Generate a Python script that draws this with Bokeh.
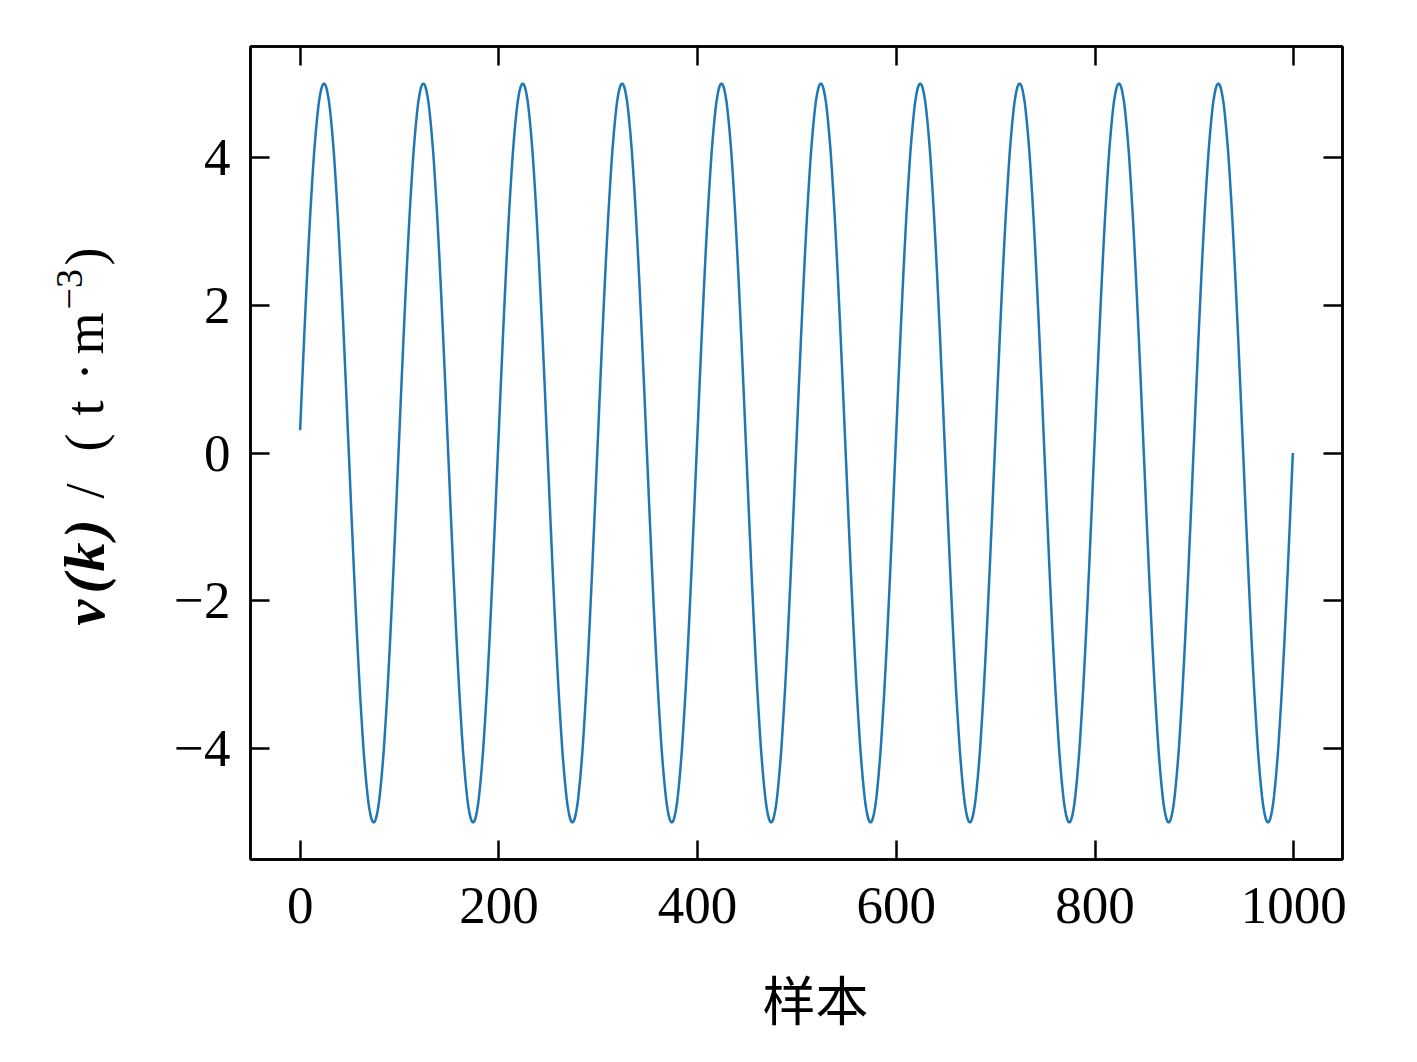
import numpy as np
from bokeh.plotting import figure
from bokeh.models import Label, LinearAxis, FixedTicker, CustomJSTickFormatter, Range1d, Title
from bokeh.layouts import row
from bokeh.embed import file_html
from bokeh.resources import INLINE

# ---- data (one period of the signal; the chart shows 10 identical periods) ----
cycle = [0.31, 0.63, 0.94, 1.24, 1.55, 1.84, 2.13, 2.41, 2.68, 2.94,
         3.19, 3.42, 3.64, 3.85, 4.05, 4.22, 4.38, 4.52, 4.65, 4.76,
         4.84, 4.91, 4.96, 4.99, 5.00, 4.99, 4.96, 4.91, 4.84, 4.76,
         4.65, 4.52, 4.38, 4.22, 4.05, 3.85, 3.64, 3.42, 3.19, 2.94,
         2.68, 2.41, 2.13, 1.84, 1.55, 1.24, 0.94, 0.63, 0.31, 0.00,
         -0.31, -0.63, -0.94, -1.24, -1.55, -1.84, -2.13, -2.41, -2.68, -2.94,
         -3.19, -3.42, -3.64, -3.85, -4.05, -4.22, -4.38, -4.52, -4.65, -4.76,
         -4.84, -4.91, -4.96, -4.99, -5.00, -4.99, -4.96, -4.91, -4.84, -4.76,
         -4.65, -4.52, -4.38, -4.22, -4.05, -3.85, -3.64, -3.42, -3.19, -2.94,
         -2.68, -2.41, -2.13, -1.84, -1.55, -1.24, -0.94, -0.63, -0.31, 0.00]
n_periods = 10
v = cycle * n_periods
samples = list(range(len(v)))

x_ticks = [0, 200, 400, 600, 800, 1000]
y_ticks = [-4, -2, 0, 2, 4]
x_label = "样本"

# ---- layout ----
X0, X1 = -49.95, 1048.95
Y0, Y1 = -5.5, 5.5
FL, FT, FW, FH = 250, 46, 1092, 813   # frame position in page pixels
TOTAL_W, TOTAL_H = 1401, 1046
LW = 150                              # width of the strip holding the y label

# strip figure for the rotated y label (page pixel coordinates as data)
lf = figure(frame_width=LW, frame_height=FH,
            x_range=Range1d(0, LW), y_range=Range1d(FT + FH, FT),
            output_backend="svg", toolbar_location=None,
            x_axis_location=None, y_axis_location=None,
            min_border_left=0, min_border_right=0,
            min_border_top=FT, min_border_bottom=TOTAL_H - FT - FH)
lf.xgrid.visible = False
lf.ygrid.visible = False
lf.outline_line_color = None
lf.background_fill_color = "white"
lf.border_fill_color = "white"

ang = np.pi / 2
BX = 84     # baseline position of the rotated label
pieces = [
    # text, start Y (page px), baseline X, size, style
    ("v", 625, BX, "58px", "bold italic"),
    ("(", 593, BX, "58px", "bold italic"),
    ("k", 571, BX, "58px", "bold italic"),
    (")", 538, BX, "58px", "bold italic"),
    ("/", 498, BX, "54px", "normal"),
    ("(", 451, BX, "54px", "normal"),
    ("t", 415, BX, "54px", "normal"),
    ("·", 380, BX, "54px", "normal"),
    ("m", 354, BX, "54px", "normal"),
    ("\u22123", 309, BX - 15, "38px", "normal"),
    (")", 265, BX, "54px", "normal"),
]
for txt, Yb, Xb, size, style in pieces:
    lf.add_layout(Label(x=Xb, y=Yb, text=txt, angle=ang,
                        text_align="left", text_baseline="alphabetic",
                        text_font="Liberation Serif", text_font_size=size,
                        text_font_style=style, text_color="black"))

p = figure(frame_width=FW, frame_height=FH,
           x_range=Range1d(X0, X1), y_range=Range1d(Y0, Y1),
           output_backend="svg", toolbar_location=None,
           x_axis_location=None, y_axis_location=None,
           min_border_left=FL - LW, min_border_top=FT,
           min_border_right=TOTAL_W - FL - FW, min_border_bottom=TOTAL_H - FT - FH)
p.background_fill_color = "white"
p.border_fill_color = "white"
p.xgrid.visible = False
p.ygrid.visible = False
p.outline_line_color = "black"
p.outline_line_width = 2.5

fmt = CustomJSTickFormatter(code="return (tick < 0 ? '\\u2212' : '') + Math.abs(tick).toFixed(0);")

def style_axis(ax, show_labels, standoff):
    ax.axis_line_color = "black"
    ax.axis_line_width = 2.5
    ax.major_tick_in = 19
    ax.major_tick_out = 0
    ax.major_tick_line_width = 2.5
    ax.major_tick_line_color = "black"
    ax.minor_tick_line_color = None
    ax.formatter = fmt
    ax.major_label_standoff = standoff
    if show_labels:
        ax.major_label_text_font = "Liberation Serif"
        ax.major_label_text_font_size = "53px"
        ax.major_label_text_color = "black"
    else:
        ax.major_label_text_font_size = "0px"
        ax.major_label_text_color = None

bx = LinearAxis(ticker=FixedTicker(ticks=x_ticks))
style_axis(bx, True, 28)
p.add_layout(bx, "below")
tx = LinearAxis(ticker=FixedTicker(ticks=x_ticks))
style_axis(tx, False, 0)
p.add_layout(tx, "above")
ly = LinearAxis(ticker=FixedTicker(ticks=y_ticks))
style_axis(ly, True, 20)
p.add_layout(ly, "left")
ry = LinearAxis(ticker=FixedTicker(ticks=y_ticks))
style_axis(ry, False, 0)
p.add_layout(ry, "right")

p.add_layout(Title(text=x_label, align="left", offset=512, standoff=64,
                   text_font="Noto Sans CJK SC", text_font_size="53px",
                   text_font_style="normal", text_color="black"), "below")

p.line(samples, v, line_color="#1f77b4", line_width=2.5)

layout = row(lf, p, spacing=0)
open("out.html", "w").write(file_html(layout, INLINE))
